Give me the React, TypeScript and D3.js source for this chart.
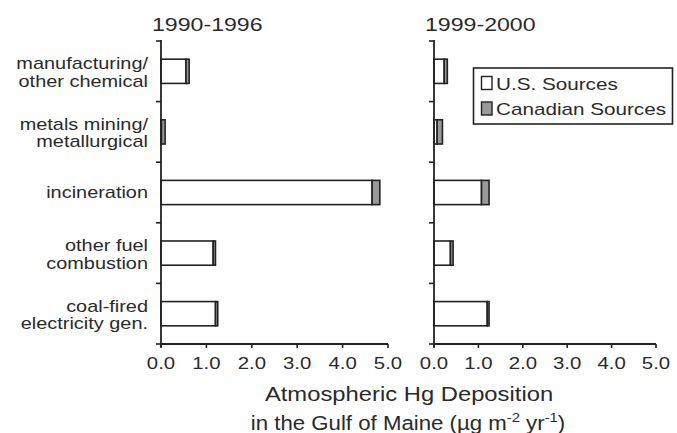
import React from "react";
import * as d3 from "d3";

const categories = ["manufacturing", "metals", "incineration", "fuel", "coal"];
const categoryLabels = [
  ["manufacturing/", "other chemical"],
  ["metals mining/", "metallurgical"],
  ["incineration"],
  ["other fuel", "combustion"],
  ["coal-fired", "electricity gen."],
];
const panelTitles = ["1990-1996", "1999-2000"];
const usSources1990 = [0.55, 0.01, 4.65, 1.15, 1.2];
const canSources1990 = [0.07, 0.08, 0.17, 0.05, 0.05];
const usSources1999 = [0.23, 0.07, 1.07, 0.37, 1.2];
const canSources1999 = [0.07, 0.12, 0.17, 0.06, 0.04];
const xTicks = [0, 1, 2, 3, 4, 5];
const legendLabels = ["U.S. Sources", "Canadian Sources"];

const FONT = "'Liberation Sans', Arial, Helvetica, sans-serif";
const TEXT = "#2a2a2a";
const LINE = "#222";
const US_FILL = "#fff";
const CAN_FILL = "#999";
const SX = 1.27;

function SText({ x, y, size, anchor = "start", sx = SX, children }: any) {
  return (
    <text
      transform={`translate(${x},${y}) scale(${sx},1)`}
      fontSize={size}
      textAnchor={anchor}
      fill={TEXT}
      fontFamily={FONT}
    >
      {children}
    </text>
  );
}

export default function App() {
  const W = 677;
  const H = 433;
  const top = 41;
  const bottom = 344;
  const y = d3.scaleBand<string>().domain(categories).range([top, bottom]).padding(0);
  const bw = y.bandwidth();
  const barH = bw * 0.4;

  const panels = [
    { x: d3.scaleLinear().domain([0, 5]).range([161, 388]), us: usSources1990, can: canSources1990, title: panelTitles[0] },
    { x: d3.scaleLinear().domain([0, 5]).range([434, 656]), us: usSources1999, can: canSources1999, title: panelTitles[1] },
  ];
  const fmt = d3.format(".1f");
  const boundaries = [...categories.map((c) => y(c) as number), bottom];

  return (
    <svg width={W} height={H} style={{ position: "absolute", left: 0, top: 0, background: "#fff" }}>
      {panels.map((p, pi) => {
        const x0 = p.x(0);
        return (
          <g key={pi}>
            <SText x={x0 - 9} y={31} size={18.5} sx={1.25}>
              {p.title}
            </SText>
            {categories.map((c, i) => {
              const by = (y(c) as number) + (bw - barH) / 2;
              const usEnd = p.x(p.us[i]);
              const canEnd = p.x(p.us[i] + p.can[i]);
              return (
                <g key={c}>
                  <rect x={x0} y={by} width={usEnd - x0} height={barH} fill={US_FILL} stroke={LINE} strokeWidth={1.6} />
                  <rect x={usEnd} y={by} width={canEnd - usEnd} height={barH} fill={CAN_FILL} stroke={LINE} strokeWidth={1.6} />
                </g>
              );
            })}
            <line x1={x0} x2={x0} y1={top - 1} y2={bottom + 3} stroke={LINE} strokeWidth={1.8} />
            {boundaries.map((b, i) => (
              <line key={i} x1={x0 - 5} x2={x0} y1={b} y2={b} stroke={LINE} strokeWidth={1.6} />
            ))}
            <line x1={p.x(0)} x2={p.x(5)} y1={bottom} y2={bottom} stroke={LINE} strokeWidth={1.8} />
            {xTicks.map((t) => (
              <g key={t}>
                <line x1={p.x(t)} x2={p.x(t)} y1={bottom} y2={bottom + 4} stroke={LINE} strokeWidth={1.6} />
                <SText x={p.x(t)} y={368.5} size={16.3} anchor="middle" sx={1.25}>
                  {fmt(t)}
                </SText>
              </g>
            ))}
          </g>
        );
      })}

      {categories.map((c, i) => {
        const cy = (y(c) as number) + bw / 2;
        const lines = categoryLabels[i];
        if (lines.length === 1) {
          return (
            <SText key={c} x={148} y={cy + 5} size={15.8} anchor="end" sx={1.26}>
              {lines[0]}
            </SText>
          );
        }
        return (
          <g key={c}>
            <SText x={148} y={cy - 2} size={15.8} anchor="end" sx={1.26}>
              {lines[0]}
            </SText>
            <SText x={148} y={cy + 15.5} size={15.8} anchor="end" sx={1.26}>
              {lines[1]}
            </SText>
          </g>
        );
      })}

      <g>
        <rect x={473.5} y={68} width={199} height={56} fill="#fff" stroke={LINE} strokeWidth={1.6} />
        <rect x={481.5} y={76.5} width={10.5} height={13} fill={US_FILL} stroke={LINE} strokeWidth={1.4} />
        <rect x={481.5} y={102} width={10.5} height={13} fill={CAN_FILL} stroke={LINE} strokeWidth={1.4} />
        <SText x={496} y={89.5} size={16.8} sx={1.23}>
          {legendLabels[0]}
        </SText>
        <SText x={496} y={114.5} size={16.8} sx={1.23}>
          {legendLabels[1]}
        </SText>
      </g>

      <SText x={409} y={401} size={19.5} anchor="middle" sx={1.22}>
        Atmospheric Hg Deposition
      </SText>
      <SText x={408} y={430} size={19.5} anchor="middle" sx={1.14}>
        in the Gulf of Maine (µg m
        <tspan dy={-8} fontSize={13}>-2</tspan>
        <tspan dy={8}> yr</tspan>
        <tspan dy={-8} fontSize={13}>-1</tspan>
        <tspan dy={8}>)</tspan>
      </SText>
    </svg>
  );
}
